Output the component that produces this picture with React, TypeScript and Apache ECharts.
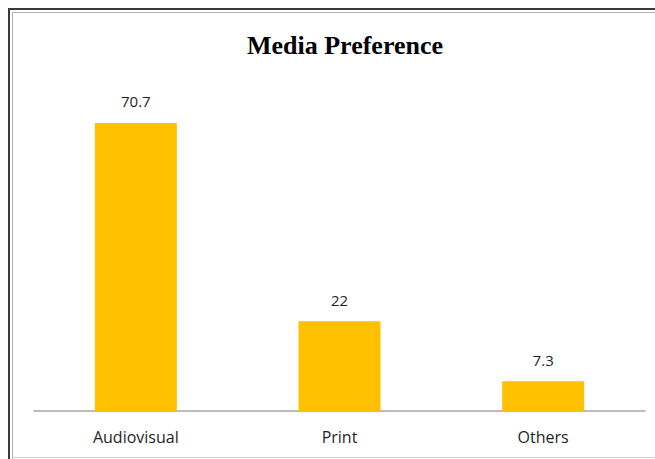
import React, { useEffect, useRef } from "react";
import * as echarts from "echarts";

const categories = ["Audiovisual", "Print", "Others"];
const values = [70.7, 22, 7.3];
const titleText = "Media Preference";

export default function App() {
  const ref = useRef<HTMLDivElement>(null);
  useEffect(() => {
    if (!ref.current) return;
    const chart = echarts.init(ref.current, undefined, { renderer: "svg" });
    chart.setOption({
      animation: false,
      backgroundColor: "#ffffff",
      title: {
        text: titleText,
        left: 340,
        textAlign: "center",
        top: 27,
        textStyle: {
          fontFamily: "Liberation Serif",
          fontWeight: "bold",
          fontSize: 26,
          color: "#000000",
        },
      },
      graphic: [
        { type: "line", shape: { x1: 8, y1: 9, x2: 655, y2: 9 }, style: { stroke: "#3a3a3a", lineWidth: 2 } },
        { type: "line", shape: { x1: 9, y1: 8, x2: 9, y2: 459 }, style: { stroke: "#3a3a3a", lineWidth: 2 } },
        { type: "line", shape: { x1: 12, y1: 12.5, x2: 655, y2: 12.5 }, style: { stroke: "#b0b0b0", lineWidth: 1 } },
        { type: "line", shape: { x1: 12.5, y1: 12, x2: 12.5, y2: 459 }, style: { stroke: "#b0b0b0", lineWidth: 1 } },
        { type: "line", shape: { x1: 12, y1: 457.5, x2: 655, y2: 457.5 }, style: { stroke: "#cfcfcf", lineWidth: 1 } },
      ],
      grid: { left: 34, right: 10, top: 85, bottom: 48 },
      xAxis: {
        type: "category",
        data: categories,
        axisLine: { lineStyle: { color: "#a6a6a6", width: 1.5 } },
        axisTick: { show: false },
        axisLabel: {
          margin: 18,
          fontSize: 16,
          fontFamily: "Open Sans",
          color: "#1f1f1f",
        },
      },
      yAxis: {
        type: "value",
        min: 0,
        max: 80,
        show: false,
        splitLine: { show: false },
      },
      series: [
        {
          type: "bar",
          data: values,
          barWidth: 82,
          itemStyle: { color: "#FFC000" },
          label: {
            show: true,
            position: "top",
            distance: 14,
            fontSize: 15,
            fontFamily: "Open Sans",
            color: "#1f1f1f",
          },
        },
      ],
    });
    return () => chart.dispose();
  }, []);
  return (
    <div
      ref={ref}
      style={{ position: "fixed", left: 0, top: 0, width: 655, height: 459 }}
    />
  );
}
